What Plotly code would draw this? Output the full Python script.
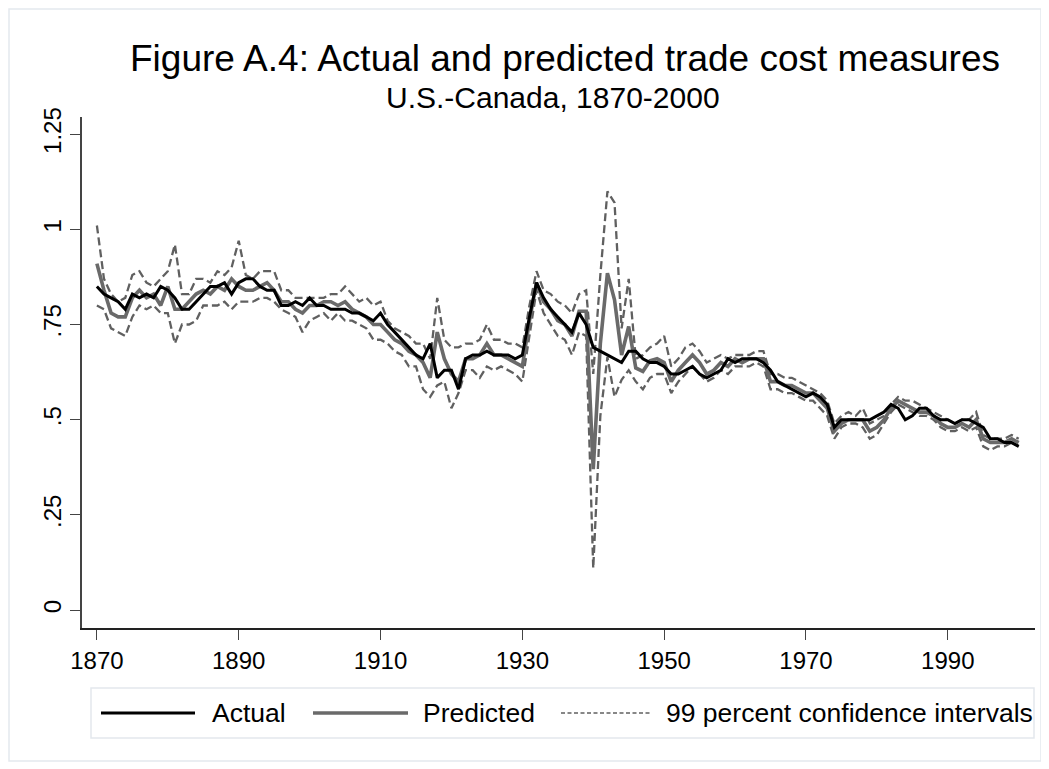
import plotly.graph_objects as go

years = list(range(1870, 2001))

actual = [
    0.85, 0.83, 0.82, 0.81, 0.79, 0.83, 0.82, 0.83, 0.82, 0.85,
    0.84, 0.82, 0.79, 0.79, 0.81, 0.83, 0.85, 0.85, 0.86, 0.83,
    0.86, 0.87, 0.87, 0.85, 0.84, 0.84, 0.80, 0.80, 0.81, 0.80,
    0.82, 0.80, 0.80, 0.79, 0.79, 0.79, 0.78, 0.78, 0.77, 0.76,
    0.78, 0.75, 0.73, 0.71, 0.69, 0.67, 0.66, 0.70, 0.61, 0.63,
    0.63, 0.58, 0.66, 0.67, 0.67, 0.68, 0.67, 0.67, 0.67, 0.66,
    0.67, 0.77, 0.86, 0.82, 0.79, 0.77, 0.75, 0.73, 0.78, 0.75,
    0.69, 0.68, 0.67, 0.66, 0.65, 0.68, 0.68, 0.66, 0.65, 0.65,
    0.64, 0.62, 0.62, 0.63, 0.64, 0.62, 0.61, 0.62, 0.63, 0.66,
    0.65, 0.66, 0.66, 0.66, 0.65, 0.63, 0.60, 0.59, 0.58, 0.57,
    0.56, 0.57, 0.56, 0.54, 0.48, 0.50, 0.50, 0.50, 0.50, 0.50,
    0.51, 0.52, 0.54, 0.53, 0.50, 0.51, 0.53, 0.53, 0.51, 0.50,
    0.50, 0.49, 0.50, 0.50, 0.49, 0.48, 0.45, 0.45, 0.44, 0.44,
    0.43,
]

predicted = [
    0.91, 0.84, 0.78, 0.77, 0.77, 0.82, 0.84, 0.82, 0.83, 0.80,
    0.85, 0.79, 0.79, 0.81, 0.83, 0.84, 0.83, 0.85, 0.84, 0.87,
    0.85, 0.84, 0.84, 0.85, 0.86, 0.84, 0.81, 0.81, 0.79, 0.78,
    0.80, 0.80, 0.81, 0.81, 0.80, 0.81, 0.79, 0.78, 0.77, 0.75,
    0.75, 0.73, 0.71, 0.70, 0.68, 0.67, 0.65, 0.61, 0.73, 0.66,
    0.62, 0.60, 0.66, 0.66, 0.67, 0.70, 0.67, 0.67, 0.66, 0.65,
    0.64, 0.76, 0.86, 0.81, 0.79, 0.76, 0.75, 0.72, 0.785, 0.785,
    0.37, 0.70, 0.885, 0.815, 0.67, 0.745, 0.636, 0.627, 0.655, 0.66,
    0.65, 0.60, 0.63, 0.65, 0.67, 0.65, 0.62, 0.63, 0.65, 0.64,
    0.66, 0.65, 0.66, 0.66, 0.66, 0.60, 0.60, 0.59, 0.59, 0.58,
    0.57, 0.57, 0.55, 0.53, 0.47, 0.49, 0.50, 0.50, 0.50, 0.47,
    0.48, 0.50, 0.53, 0.55, 0.54, 0.53, 0.52, 0.52, 0.51, 0.49,
    0.48, 0.48, 0.49, 0.48, 0.50, 0.45, 0.44, 0.44, 0.44, 0.45,
    0.44,
]

upper_ci = [
    1.01, 0.87, 0.83, 0.81, 0.82, 0.88, 0.89, 0.86, 0.85, 0.87,
    0.89, 0.96, 0.83, 0.83, 0.87, 0.87, 0.86, 0.89, 0.88, 0.90,
    0.97, 0.88, 0.87, 0.89, 0.89, 0.89, 0.84, 0.84, 0.82, 0.82,
    0.82, 0.82, 0.82, 0.83, 0.83, 0.85, 0.83, 0.81, 0.82, 0.80,
    0.81, 0.76, 0.74, 0.73, 0.72, 0.70, 0.70, 0.66, 0.82, 0.71,
    0.69, 0.69, 0.70, 0.70, 0.71, 0.75, 0.71, 0.71, 0.70, 0.70,
    0.69, 0.80, 0.89, 0.84, 0.83, 0.81, 0.80, 0.78, 0.83, 0.84,
    0.62, 0.88, 1.10, 1.07, 0.74, 0.87, 0.66, 0.67, 0.69, 0.70,
    0.72, 0.64, 0.66, 0.69, 0.70, 0.68, 0.65, 0.66, 0.67, 0.66,
    0.67, 0.67, 0.67, 0.68, 0.68, 0.62, 0.62, 0.61, 0.61, 0.60,
    0.59, 0.58, 0.57, 0.55, 0.49, 0.51, 0.52, 0.51, 0.53, 0.49,
    0.50, 0.51, 0.54, 0.56, 0.55, 0.55, 0.54, 0.53, 0.52, 0.51,
    0.50, 0.49, 0.50, 0.50, 0.52, 0.46, 0.45, 0.45, 0.45, 0.46,
    0.45,
]

lower_ci = [
    0.80, 0.79, 0.74, 0.73, 0.72, 0.77, 0.80, 0.79, 0.80, 0.78,
    0.78, 0.70, 0.75, 0.75, 0.76, 0.80, 0.80, 0.80, 0.81, 0.79,
    0.81, 0.81, 0.81, 0.82, 0.82, 0.81, 0.79, 0.78, 0.77, 0.73,
    0.76, 0.77, 0.78, 0.76, 0.78, 0.76, 0.76, 0.75, 0.74, 0.71,
    0.71, 0.70, 0.68, 0.67, 0.64, 0.64, 0.58, 0.56, 0.59, 0.60,
    0.53, 0.57, 0.63, 0.63, 0.61, 0.64, 0.63, 0.64, 0.63, 0.62,
    0.60, 0.72, 0.84, 0.78, 0.75, 0.72, 0.71, 0.67, 0.73, 0.72,
    0.11, 0.51, 0.665, 0.56, 0.605, 0.63, 0.60, 0.58, 0.61, 0.62,
    0.62, 0.57, 0.60, 0.62, 0.64, 0.62, 0.60, 0.61, 0.63, 0.62,
    0.64, 0.64, 0.64, 0.65, 0.64, 0.58, 0.58, 0.57, 0.57, 0.56,
    0.55, 0.55, 0.53, 0.51, 0.45, 0.48, 0.49, 0.49, 0.48, 0.45,
    0.46, 0.49, 0.52, 0.54, 0.53, 0.52, 0.51, 0.51, 0.50, 0.48,
    0.47, 0.47, 0.48, 0.47, 0.48, 0.43, 0.42, 0.43, 0.43, 0.44,
    0.43,
]

x_tick_vals = [1870, 1890, 1910, 1930, 1950, 1970, 1990]
y_tick_vals = [0, 0.25, 0.5, 0.75, 1, 1.25]
y_tick_text = ["0", ".25", ".5", ".75", "1", "1.25"]

title_text = "Figure A.4: Actual and predicted trade cost measures"
subtitle_text = "U.S.-Canada, 1870-2000"
legend_labels = ["Actual", "Predicted", "99 percent confidence intervals"]

FONT = "Liberation Sans, Arial, Helvetica, sans-serif"

# The page body has an 8px default margin, so the figure is laid out in
# coordinates shifted by OFF relative to the screenshot.
OFF = 8
W, H = 1049 - OFF, 769 - OFF
# plot area in screenshot pixels
SL, SR, ST, SB = 82, 1035, 117, 628
L, R, T, B = SL - OFF, SR - OFF, ST - OFF, SB - OFF


def px(xs):
    """screenshot x -> paper x"""
    return (xs - OFF - L) / (R - L)


def py(ys):
    """screenshot y -> paper y"""
    return (B - (ys - OFF)) / (B - T)


CI_COLOR = "#606060"
PRED_COLOR = "#6a6a6a"
CI_DASH = "8px,4px"

fig = go.Figure()
fig.add_trace(go.Scatter(x=years, y=upper_ci, mode="lines", name=legend_labels[2],
                         line=dict(color=CI_COLOR, width=2.3, dash=CI_DASH)))
fig.add_trace(go.Scatter(x=years, y=lower_ci, mode="lines", name=legend_labels[2],
                         line=dict(color=CI_COLOR, width=2.3, dash=CI_DASH)))
fig.add_trace(go.Scatter(x=years, y=predicted, mode="lines", name=legend_labels[1],
                         line=dict(color=PRED_COLOR, width=3.6)))
fig.add_trace(go.Scatter(x=years, y=actual, mode="lines", name=legend_labels[0],
                         line=dict(color="#000000", width=3)))

shapes = []
annotations = []

# outer graph-region border
shapes.append(dict(type="rect", xref="paper", yref="paper",
                   x0=px(9), x1=px(1041), y0=py(9), y1=py(761),
                   line=dict(color="#e4e9ee", width=1.5), layer="below"))
# legend box
shapes.append(dict(type="rect", xref="paper", yref="paper",
                   x0=px(91), x1=px(1034), y0=py(688), y1=py(738),
                   line=dict(color="#e3e8ed", width=1.5), fillcolor="white", layer="below"))

ly = 713
legend_items = [
    (101, 195, 210, "#000000", 3, "solid", legend_labels[0]),
    (313, 408, 421, PRED_COLOR, 3.6, "solid", legend_labels[1]),
    (561, 650, 664, CI_COLOR, 1.6, "4px,2.5px", legend_labels[2]),
]
for x0, x1, tx, col, w, dash, lab in legend_items:
    shapes.append(dict(type="line", xref="paper", yref="paper",
                       x0=px(x0), x1=px(x1), y0=py(ly), y1=py(ly),
                       line=dict(color=col, width=w, dash=dash)))
    annotations.append(dict(text=lab, xref="paper", yref="paper", x=px(tx), y=py(ly),
                            xanchor="left", yanchor="middle", showarrow=False,
                            font=dict(family=FONT, size=26.5, color="black")))

annotations.append(dict(text=title_text, xref="paper", yref="paper",
                        x=px(565), y=py(59), xanchor="center", yanchor="middle",
                        showarrow=False, font=dict(family=FONT, size=37, color="black")))
annotations.append(dict(text=subtitle_text, xref="paper", yref="paper",
                        x=px(553), y=py(98), xanchor="center", yanchor="middle",
                        showarrow=False, font=dict(family=FONT, size=30, color="black")))

fig.update_layout(
    width=W, height=H,
    margin=dict(l=L, r=W - R, t=T, b=H - B, autoexpand=False),
    paper_bgcolor="white", plot_bgcolor="white",
    showlegend=False,
    font=dict(family=FONT, size=24, color="black"),
    shapes=shapes, annotations=annotations,
    xaxis=dict(range=[1867.9, 2002.3], tickvals=x_tick_vals, showgrid=False, zeroline=False,
               showline=True, linecolor="#222222", linewidth=1.5,
               ticks="outside", ticklen=10, tickwidth=1.2, tickcolor="#444444",
               tickfont=dict(family=FONT, size=24, color="black")),
    yaxis=dict(range=[-0.047, 1.295], tickvals=y_tick_vals, ticktext=y_tick_text,
               showgrid=False, zeroline=False, tickangle=-90,
               showline=True, linecolor="#444444", linewidth=1.5,
               ticks="outside", ticklen=10, tickwidth=1.2, tickcolor="#444444",
               ticklabelstandoff=0,
               tickfont=dict(family=FONT, size=24, color="black")),
)

fig.write_html("out.html")
